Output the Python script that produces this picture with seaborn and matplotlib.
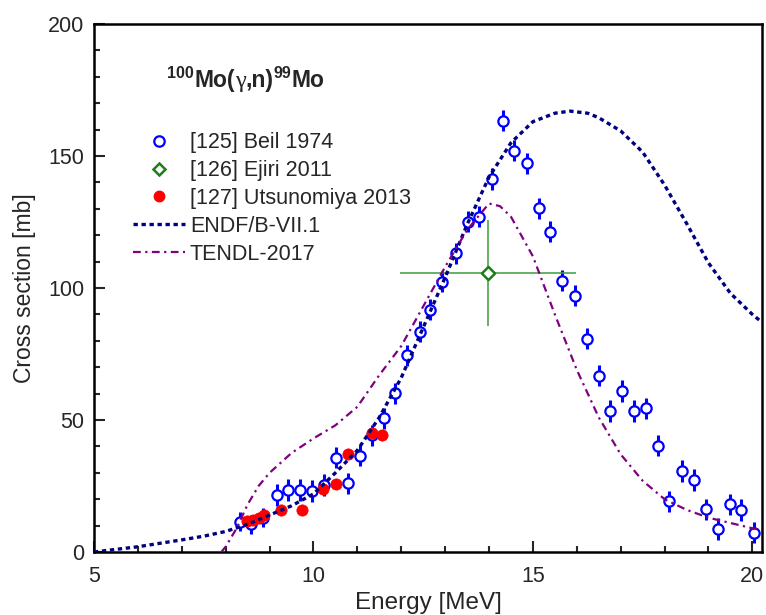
import numpy as np
import pandas as pd
import seaborn as sns
import matplotlib.pyplot as plt
from matplotlib.lines import Line2D
from matplotlib.ticker import MultipleLocator

# [125] Beil 1974
beil_e = [8.32, 8.58, 8.85, 9.16, 9.43, 9.70, 9.96, 10.23, 10.52, 10.78, 11.05,
          11.33, 11.60, 11.86, 12.14, 12.42, 12.66, 12.94, 13.24, 13.51, 13.78,
          14.07, 14.33, 14.58, 14.86, 15.13, 15.40, 15.67, 15.96, 16.23, 16.50,
          16.76, 17.03, 17.30, 17.58, 17.84, 18.11, 18.40, 18.66, 18.94, 19.22,
          19.48, 19.75, 20.03]
beil_xs = [11.5, 10.5, 13.0, 21.6, 23.5, 23.5, 23.1, 25.4, 35.7, 26.0, 36.4,
           44.3, 50.6, 60.1, 74.5, 83.4, 91.7, 102.4, 113.1, 125.1, 127.0,
           141.3, 163.3, 152.0, 147.2, 130.2, 121.3, 102.8, 97.1, 80.8, 66.8,
           53.4, 61.0, 53.4, 54.4, 40.2, 19.2, 30.7, 27.3, 16.2, 8.7,
           18.1, 15.9, 7.3]
beil_err = [3.5, 3.5, 3.5, 4, 4, 4, 4, 4, 4, 4, 4,
            4, 4, 4, 4, 4, 4, 4, 4, 4, 4,
            4, 4, 4, 4, 4, 4, 4, 4, 4, 4,
            4, 4, 4, 4, 4, 4, 4, 4, 4, 4,
            4, 4, 4]

# [126] Ejiri 2011
ejiri_e = [13.98]
ejiri_xs = [105.7]
ejiri_xerr = [2.0]
ejiri_yerr = [20.0]

# [127] Utsunomiya 2013
utsu_e = [8.48, 8.63, 8.75, 8.88, 9.25, 9.74, 10.21, 10.51, 10.79, 11.33, 11.56]
utsu_xs = [11.6, 12.2, 12.9, 14.0, 15.8, 16.0, 24.0, 25.8, 37.2, 45.0, 44.3]

# evaluations
endf_e = [5.0, 5.5, 6.0, 6.5, 7.0, 7.5, 8.0, 8.5, 9.0, 9.5, 10.0, 10.5, 11.0,
          11.5, 12.0, 12.5, 13.0, 13.5, 14.0, 14.5, 15.0, 15.5, 15.85, 16.25,
          16.5, 17.0, 17.5, 18.0, 18.5, 19.0, 19.5, 20.0, 20.22]
endf_xs = [0, 1.0, 2.0, 3.3, 4.6, 6.0, 7.8, 10.5, 14.0, 17.5, 22.0, 30.0, 38.5,
           51.0, 66.0, 85.0, 104.0, 124.0, 142.0, 155.0, 163.0, 166.2, 167.0, 166.2,
           164.5, 159.5, 151.5, 139.0, 124.5, 109.5, 98.0, 90.0, 87.0]

tendl_e = [7.9, 8.0, 8.25, 8.5, 8.75, 9.0, 9.5, 10.0, 10.5, 11.0, 11.5, 12.0,
           12.5, 13.0, 13.5, 14.0, 14.25, 14.5, 15.0, 15.5, 16.0, 16.5, 17.0,
           17.5, 18.0, 18.5, 19.0, 19.5, 20.0, 20.22]
tendl_xs = [0, 2.0, 9.0, 18.0, 25.0, 30.0, 37.5, 43.0, 48.0, 55.0, 67.0, 78.0,
            93.0, 108.0, 122.0, 132.0, 131.0, 127.0, 112.0, 90.0, 69.0, 51.0, 37.0,
            27.0, 20.0, 16.0, 13.0, 11.0, 9.0, 8.3]

labels = ['[125] Beil 1974', '[126] Ejiri 2011', '[127] Utsunomiya 2013',
          'ENDF/B-VII.1', 'TENDL-2017']

sns.set_style('ticks')
plt.rcParams['font.family'] = ['Liberation Sans', 'DejaVu Sans']

endf_ls = (0, (1.3, 1.1))
tendl_ls = (0, (3.5, 2, 1, 2))

fig = plt.figure(figsize=(7.66, 6.15), dpi=100)
ax = fig.add_axes([0.1227, 0.1024, 0.8721, 0.8586])

ax.plot(endf_e, endf_xs, color='#000080', lw=2.4, ls=endf_ls, zorder=5)
ax.plot(tendl_e, tendl_xs, color='#800080', lw=1.6, ls=tendl_ls, zorder=5)

ax.errorbar(beil_e, beil_xs, yerr=beil_err, fmt='none', ecolor='blue',
            elinewidth=2.2, capsize=0, zorder=3)
sns.scatterplot(x=beil_e, y=beil_xs, ax=ax, marker='o', s=55, facecolor='white',
                edgecolor='blue', linewidth=1.6, zorder=4)

ax.errorbar(ejiri_e, ejiri_xs, xerr=ejiri_xerr, yerr=ejiri_yerr, fmt='none',
            ecolor='#3c9c3c', elinewidth=1.1, capsize=0, zorder=3)
sns.scatterplot(x=ejiri_e, y=ejiri_xs, ax=ax, marker='D', s=45, facecolor='white',
                edgecolor='#1a7f1a', linewidth=1.8, zorder=4)

sns.scatterplot(x=utsu_e, y=utsu_xs, ax=ax, marker='o', s=66, color='red',
                edgecolor='red', linewidth=0.5, zorder=4)

ax.set_xlim(5, 20.22)
ax.set_ylim(0, 200)
ax.xaxis.set_major_locator(MultipleLocator(5))
ax.xaxis.set_minor_locator(MultipleLocator(1))
ax.yaxis.set_major_locator(MultipleLocator(50))
ax.yaxis.set_minor_locator(MultipleLocator(10))
ax.tick_params(which='both', direction='in', width=1.5, labelsize=15.5)
ax.tick_params(which='major', length=8)
ax.tick_params(which='minor', length=4)
ax.tick_params(axis='y', pad=7)
ax.tick_params(axis='x', pad=10)
for sp in ax.spines.values():
    sp.set_linewidth(1.8)
    sp.set_color('black')

ax.set_xlabel('Energy [MeV]', fontsize=17.5, labelpad=4)
ax.set_ylabel('Cross section [mb]', fontsize=16.5, labelpad=9,
              family=['Liberation Sans Narrow', 'Liberation Sans'])

# reaction label: 100Mo(gamma,n)99Mo
t_mo = ax.text(0.150, 0.880, 'Mo(', transform=ax.transAxes, ha='left',
               va='baseline', fontsize=16.5, fontweight='bold')
ax.annotate('100', xy=(0, 0.48), xycoords=t_mo, ha='right', va='bottom',
            fontsize=11.5, fontweight='bold')
t_g = ax.annotate('\u03b3', xy=(1, 0), xycoords=t_mo, ha='left', va='bottom',
                  fontsize=17.5, family=['Liberation Serif', 'DejaVu Serif'])
t_n = ax.annotate(',n)', xy=(1, 0), xycoords=t_g, ha='left', va='bottom',
                  fontsize=16.5, fontweight='bold')
t_99 = ax.annotate('99', xy=(1, 0.48), xycoords=t_n, ha='left', va='bottom',
                   fontsize=11.5, fontweight='bold')
ax.annotate('Mo', xy=(1, 0), xycoords=(t_99, t_n), ha='left', va='bottom',
            fontsize=16.5, fontweight='bold')

handles = [
    Line2D([], [], marker='o', ls='none', mfc='white', mec='blue', mew=1.6, ms=7.5),
    Line2D([], [], marker='D', ls='none', mfc='white', mec='#1a7f1a', mew=1.8, ms=6.5),
    Line2D([], [], marker='o', ls='none', color='red', ms=7.5),
    Line2D([], [], color='#000080', lw=2.4, ls=endf_ls),
    Line2D([], [], color='#800080', lw=1.6, ls=tendl_ls),
]
ax.legend(handles, labels, loc='upper left', bbox_to_anchor=(0.058, 0.795),
          frameon=False, fontsize=15.5, handlelength=2.42, handletextpad=0.23,
          labelspacing=0.32, borderpad=0, borderaxespad=0)

fig.savefig('out.png', dpi=100)
